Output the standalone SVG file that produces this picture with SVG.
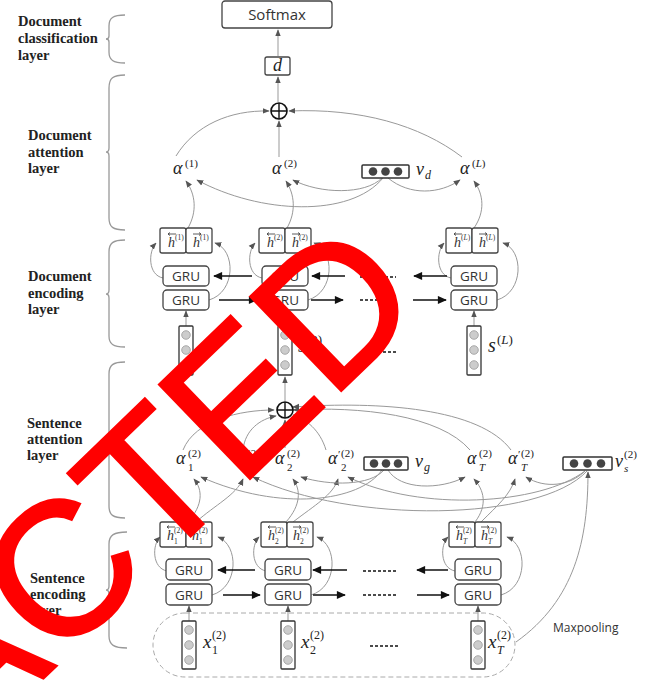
<svg xmlns="http://www.w3.org/2000/svg" width="656" height="682" viewBox="0 0 656 682">
<defs>
<marker id="ag" viewBox="0 0 10 10" refX="9" refY="5" markerWidth="7" markerHeight="7" orient="auto" markerUnits="userSpaceOnUse"><path d="M0,1 L10,5 L0,9 z" fill="#555"/></marker>
<marker id="ak" viewBox="0 0 10 10" refX="9" refY="5" markerWidth="10" markerHeight="9" orient="auto" markerUnits="userSpaceOnUse"><path d="M0,0.5 L10,5 L0,9.5 z" fill="#111"/></marker>
<style>
.box{fill:#fff;stroke:#444;stroke-width:1.3}
.gru{font-family:"Open Sans","Liberation Sans",sans-serif;font-size:13.5px;fill:#333;text-anchor:middle}
.lbl{font-family:"Liberation Serif",serif;font-weight:bold;font-size:14.5px;fill:#222}
.brace{fill:none;stroke:#999;stroke-width:1.3}
.g{fill:none;stroke:#999;stroke-width:1;marker-end:url(#ag)}
.k{fill:none;stroke:#111;stroke-width:1.5;marker-end:url(#ak)}
.dash{stroke:#111;stroke-width:1.5;stroke-dasharray:3 2}
.m{font-family:"Liberation Serif",serif;font-style:italic;font-size:18px;fill:#222}
.sup{font-family:"Liberation Serif",serif;font-size:11px;fill:#222}
.hh{font-family:"Liberation Serif",serif;font-style:italic;font-size:14px;fill:#333}
.hs{font-family:"Liberation Serif",serif;font-size:7.5px;fill:#333}
.ov{fill:none;stroke:#333;stroke-width:0.8}
.vec{fill:#fff;stroke:#333;stroke-width:1.3}
.cir{fill:#ccc;stroke:#999;stroke-width:0.8}
.dot{fill:#444}
.oplus{fill:#fff;stroke:#111;stroke-width:1.6}
</style>
</defs>
<rect width="656" height="682" fill="#fff"/>

<!-- layer labels and braces -->
<g id="layer-labels">
<text class="lbl" x="18" y="26">Document</text><text class="lbl" x="18" y="43">classification</text><text class="lbl" x="18" y="60">layer</text>
<text class="lbl" x="28" y="140">Document</text><text class="lbl" x="28" y="157">attention</text><text class="lbl" x="28" y="173">layer</text>
<text class="lbl" x="28" y="281">Document</text><text class="lbl" x="28" y="298">encoding</text><text class="lbl" x="28" y="314">layer</text>
<text class="lbl" x="27" y="428">Sentence</text><text class="lbl" x="27" y="444">attention</text><text class="lbl" x="27" y="460">layer</text>
<text class="lbl" x="30" y="583">Sentence</text><text class="lbl" x="30" y="599">encoding</text><text class="lbl" x="30" y="615">layer</text>
</g>
<g id="braces">
<path class="brace" d="M125 15 C113 15 109 18 109 26 L109 36 Q109 39 106 39 Q109 39 109 42 L109 52 C109 60 113 63 125 63"/>
<path class="brace" d="M125 75 C113 75 109 78 109 88 L109 148 Q109 152 106 152 Q109 152 109 156 L109 218 C109 227 113 230 125 230"/>
<path class="brace" d="M125 240 C113 240 109 243 109 252 L109 290 Q109 294 106 294 Q109 294 109 298 L109 336 C109 344 113 347 125 347"/>
<path class="brace" d="M125 362 C113 362 109 365 109 374 L109 436 Q109 440 106 440 Q109 440 109 444 L109 506 C109 515 113 518 125 518"/>
<path class="brace" d="M127 532 C114 532 109 535 109 544 L109 586 Q109 590 106 590 Q109 590 109 594 L109 636 C109 645 114 648 127 648"/>
</g>

<!-- connectors -->
<g id="connectors">
<path class="g" d="M278 56 L278 30"/>
<path class="g" d="M278 102 L278 77"/>
<path class="g" d="M176 156 C195 125 230 110 269 111"/>
<path class="g" d="M279 157 L279 121"/>
<path class="g" d="M462 157 C420 125 360 108 289 111"/>
<path class="g" d="M383 178 C350 218 260 214 197 180"/>
<path class="g" d="M382 178 C365 195 320 194 293 180"/>
<path class="g" d="M388 178 C410 196 440 194 460 180"/>
<path class="g" d="M188 228 C197 212 196 195 186 181"/>
<path class="g" d="M287 228 C296 212 295 195 286 181"/>
<path class="g" d="M474 228 C485 212 484 195 474 181"/>
<path class="g" d="M163 278 C148 275 148 252 156 243"/>
<path class="g" d="M209 300 C236 292 236 250 215 243"/>
<path class="g" d="M262 278 C247 275 247 252 255 243"/>
<path class="g" d="M308 300 C335 292 335 250 314 243"/>
<path class="g" d="M451 278 C436 275 436 252 444 243"/>
<path class="g" d="M497 300 C524 292 524 250 503 243"/>
<path class="k" d="M252 276 L214 276"/>
<path class="k" d="M345 276 L312 276"/>
<path class="k" d="M447 276 L414 276"/>
<path class="k" d="M219 300 L257 300"/>
<path class="k" d="M311 300 L343 300"/>
<path class="k" d="M413 300 L446 300"/>
<line class="dash" x1="360" y1="277" x2="396" y2="277"/>
<line class="dash" x1="360" y1="300" x2="396" y2="300"/>
<line class="dash" x1="373" y1="352" x2="396" y2="352"/>
<path class="g" d="M186 326 L186 311"/>
<path class="g" d="M285 326 L285 311"/>
<path class="g" d="M474 326 L474 311"/>
<path class="g" d="M285 401 L285 377"/>
<path class="g" d="M183 450 C195 420 240 410 274 410"/>
<path class="g" d="M243 450 C245 430 260 419 276 416"/>
<path class="g" d="M285 448 L285 420"/>
<path class="g" d="M326 450 C320 430 306 419 293 415"/>
<path class="g" d="M470 450 C440 415 360 406 293 410"/>
<path class="g" d="M511 450 C480 408 380 401 293 407"/>
<path class="g" d="M188 522 C203 505 203 490 194 479"/>
<path class="g" d="M196 522 C215 505 236 495 243 479"/>
<path class="g" d="M286 522 C301 505 301 490 293 479"/>
<path class="g" d="M293 522 C315 505 333 495 338 479"/>
<path class="g" d="M475 522 C488 505 484 490 474 479"/>
<path class="g" d="M481 522 C498 505 510 495 515 479"/>
<path class="g" d="M388 470 C400 490 440 490 465 477"/>
<path class="g" d="M384 470 C370 486 330 486 301 477"/>
<path class="g" d="M382 470 C360 502 280 512 201 477"/>
<path class="g" d="M585 471 C570 486 545 489 526 477"/>
<path class="g" d="M585 471 C540 505 420 512 348 477"/>
<path class="g" d="M587 471 C540 522 350 524 253 477"/>
<path class="g" d="M516 642 C575 600 588 540 588 472"/>
<path class="g" d="M167 571 C152 568 152 545 160 537"/>
<path class="g" d="M212 595 C239 587 239 545 218 537"/>
<path class="g" d="M266 571 C251 568 251 545 259 537"/>
<path class="g" d="M311 595 C338 587 338 545 317 537"/>
<path class="g" d="M455 571 C440 568 440 545 448 537"/>
<path class="g" d="M501 595 C528 587 528 545 507 537"/>
<path class="k" d="M255 570 L218 570"/>
<path class="k" d="M347 570 L313 570"/>
<path class="k" d="M448 570 L417 570"/>
<path class="k" d="M223 595 L260 595"/>
<path class="k" d="M313 595 L345 595"/>
<path class="k" d="M417 595 L449 595"/>
<line class="dash" x1="363" y1="571" x2="398" y2="571"/>
<line class="dash" x1="363" y1="595" x2="398" y2="595"/>
<line class="dash" x1="370" y1="646" x2="398" y2="646"/>
<path class="g" d="M189 621 L189 606"/>
<path class="g" d="M288 621 L288 606"/>
<path class="g" d="M478 621 L478 606"/>
</g>

<!-- nodes -->
<g id="softmax"><rect class="box" x="222" y="1" width="110" height="27" rx="3"/><text class="gru" x="277" y="20" style="font-size:15px">Softmax</text></g>
<g id="d"><rect class="box" x="265" y="57" width="25" height="18" rx="2"/><text class="m" x="277.5" y="71" text-anchor="middle">d</text></g>
<g id="oplus-doc"><circle class="oplus" cx="279" cy="111" r="8"/><path d="M271 111 H287 M279 103 V119" stroke="#111" stroke-width="1.4"/></g>

<g id="alpha-doc-1"><text class="m" x="173" y="174">α</text><text class="sup" x="185" y="167">(1)</text></g>
<g id="alpha-doc-2"><text class="m" x="272" y="174">α</text><text class="sup" x="284" y="167">(2)</text></g>
<g id="alpha-doc-L"><text class="m" x="460" y="174">α</text><text class="sup" x="472" y="167">(<tspan font-style="italic">L</tspan>)</text></g>
<g id="vd"><rect class="box" x="362" y="165" width="47" height="13" rx="1" style="stroke:#333;stroke-width:1.5"/><circle class="dot" cx="373" cy="171.5" r="4.3"/><circle class="dot" cx="385.5" cy="171.5" r="4.3"/><circle class="dot" cx="398" cy="171.5" r="4.3"/><text class="m" x="416" y="175" style="font-size:18px">v</text><text class="sup" x="425" y="179" font-style="italic" style="font-size:12px">d</text></g>

<g id="doc-col-1">
<rect class="box" x="160" y="228" width="26" height="25" rx="2"/><rect class="box" x="186" y="228" width="26" height="25" rx="2"/>
<text class="hh" x="168" y="247">h</text><text class="hs" x="175" y="240">(1)</text><path class="ov" d="M168 234 h8 M168 234 l2 -1.5 M168 234 l2 1.5"/>
<text class="hh" x="193" y="247">h</text><text class="hs" x="200" y="240">(1)</text><path class="ov" d="M193 234 h8 M201 234 l-2 -1.5 M201 234 l-2 1.5"/>
<rect class="box" x="163" y="266" width="46" height="20" rx="4"/><text class="gru" x="186" y="281">GRU</text>
<rect class="box" x="163" y="290" width="46" height="20" rx="4"/><text class="gru" x="186" y="305">GRU</text>
<rect class="vec" x="179" y="326" width="14" height="49" rx="1"/><circle class="cir" cx="186" cy="335" r="4.3"/><circle class="cir" cx="186" cy="350" r="4.3"/><circle class="cir" cx="186" cy="365" r="4.3"/>
<text class="m" x="200" y="352" style="font-size:20px">s</text><text class="sup" x="209" y="344" style="font-size:13px">(1)</text>
</g>
<g id="doc-col-2">
<rect class="box" x="259" y="228" width="26" height="25" rx="2"/><rect class="box" x="285" y="228" width="26" height="25" rx="2"/>
<text class="hh" x="267" y="247">h</text><text class="hs" x="274" y="240">(2)</text><path class="ov" d="M267 234 h8 M267 234 l2 -1.5 M267 234 l2 1.5"/>
<text class="hh" x="292" y="247">h</text><text class="hs" x="299" y="240">(2)</text><path class="ov" d="M292 234 h8 M300 234 l-2 -1.5 M300 234 l-2 1.5"/>
<rect class="box" x="262" y="266" width="46" height="20" rx="4"/><text class="gru" x="285" y="281">GRU</text>
<rect class="box" x="262" y="290" width="46" height="20" rx="4"/><text class="gru" x="285" y="305">GRU</text>
<rect class="vec" x="278" y="326" width="14" height="49" rx="1"/><circle class="cir" cx="285" cy="335" r="4.3"/><circle class="cir" cx="285" cy="350" r="4.3"/><circle class="cir" cx="285" cy="365" r="4.3"/>
<text class="m" x="298" y="352" style="font-size:20px">s</text><text class="sup" x="307" y="344" style="font-size:13px">(2)</text>
</g>
<g id="doc-col-L">
<rect class="box" x="446" y="228" width="26" height="25" rx="2"/><rect class="box" x="472" y="228" width="26" height="25" rx="2"/>
<text class="hh" x="454" y="247">h</text><text class="hs" x="461" y="240">(<tspan font-style="italic">L</tspan>)</text><path class="ov" d="M454 234 h8 M454 234 l2 -1.5 M454 234 l2 1.5"/>
<text class="hh" x="479" y="247">h</text><text class="hs" x="486" y="240">(<tspan font-style="italic">L</tspan>)</text><path class="ov" d="M479 234 h8 M487 234 l-2 -1.5 M487 234 l-2 1.5"/>
<rect class="box" x="451" y="266" width="46" height="20" rx="4"/><text class="gru" x="474" y="281">GRU</text>
<rect class="box" x="451" y="290" width="46" height="20" rx="4"/><text class="gru" x="474" y="305">GRU</text>
<rect class="vec" x="467" y="326" width="14" height="49" rx="1"/><circle class="cir" cx="474" cy="335" r="4.3"/><circle class="cir" cx="474" cy="350" r="4.3"/><circle class="cir" cx="474" cy="365" r="4.3"/>
<text class="m" x="488" y="352" style="font-size:20px">s</text><text class="sup" x="497" y="344" style="font-size:13px">(<tspan font-style="italic">L</tspan>)</text>
</g>

<g id="oplus-sent"><circle class="oplus" cx="285" cy="410" r="8"/><path d="M277 410 H293 M285 402 V418" stroke="#111" stroke-width="1.4"/></g>
<g id="alpha-s-1"><text class="m" x="176" y="464">α</text><text class="sup" x="188" y="457">(2)</text><text class="sup" x="188" y="471">1</text></g>
<g id="alpha-s-1p"><text class="m" x="234" y="464">α</text><text class="sup" x="244" y="458">′</text><text class="sup" x="247" y="457">(2)</text><text class="sup" x="247" y="471">1</text></g>
<g id="alpha-s-2"><text class="m" x="275" y="464">α</text><text class="sup" x="287" y="457">(2)</text><text class="sup" x="287" y="471">2</text></g>
<g id="alpha-s-2p"><text class="m" x="328" y="464">α</text><text class="sup" x="338" y="458">′</text><text class="sup" x="341" y="457">(2)</text><text class="sup" x="341" y="471">2</text></g>
<g id="vg"><rect class="box" x="364" y="457" width="44" height="13" rx="1" style="stroke:#333;stroke-width:1.5"/><circle class="dot" cx="374" cy="463.5" r="4.3"/><circle class="dot" cx="386" cy="463.5" r="4.3"/><circle class="dot" cx="398" cy="463.5" r="4.3"/><text class="m" x="415" y="467" style="font-size:18px">v</text><text class="sup" x="424" y="471" font-style="italic" style="font-size:12px">g</text></g>
<g id="alpha-s-T"><text class="m" x="467" y="464">α</text><text class="sup" x="479" y="457">(2)</text><text class="sup" x="479" y="471" font-style="italic">T</text></g>
<g id="alpha-s-Tp"><text class="m" x="508" y="464">α</text><text class="sup" x="518" y="458">′</text><text class="sup" x="521" y="457">(2)</text><text class="sup" x="521" y="471" font-style="italic">T</text></g>
<g id="vs"><rect class="box" x="563" y="457" width="49" height="13" rx="1" style="stroke:#333;stroke-width:1.5"/><circle class="dot" cx="574" cy="463.5" r="4.3"/><circle class="dot" cx="587.5" cy="463.5" r="4.3"/><circle class="dot" cx="601" cy="463.5" r="4.3"/><text class="m" x="615" y="467" style="font-size:18px">v</text><text class="sup" x="624" y="458">(2)</text><text class="sup" x="624" y="472" font-style="italic">s</text></g>

<g id="input-region"><rect x="153" y="613" width="362" height="64" rx="32" fill="none" stroke="#aaa" stroke-width="1" stroke-dasharray="5 3"/><text x="553" y="632" style="font-family:'Open Sans','Liberation Sans',sans-serif;font-size:12px;fill:#333">Maxpooling</text></g>
<g id="sent-col-1">
<rect class="box" x="160" y="522" width="26" height="25" rx="2"/><rect class="box" x="186" y="522" width="26" height="25" rx="2"/>
<text class="hh" x="167" y="540">h</text><text class="hs" x="174" y="533">(2)</text><text class="hs" x="174" y="544">1</text><path class="ov" d="M167 527 h8 M167 527 l2 -1.5 M167 527 l2 1.5"/>
<text class="hh" x="192" y="540">h</text><text class="hs" x="199" y="533">(2)</text><text class="hs" x="199" y="544">1</text><path class="ov" d="M192 527 h8 M200 527 l-2 -1.5 M200 527 l-2 1.5"/>
<rect class="box" x="166" y="559" width="46" height="21" rx="4"/><text class="gru" x="189" y="575">GRU</text>
<rect class="box" x="166" y="584" width="46" height="21" rx="4"/><text class="gru" x="189" y="600">GRU</text>
<rect class="vec" x="182" y="621" width="14" height="48" rx="1"/><circle class="cir" cx="189" cy="630" r="4.3"/><circle class="cir" cx="189" cy="645" r="4.3"/><circle class="cir" cx="189" cy="660" r="4.3"/>
<text class="m" x="203" y="648" style="font-size:19px">x</text><text class="sup" x="212" y="639" style="font-size:12px">(2)</text><text class="sup" x="212" y="654" style="font-size:12px">1</text>
</g>
<g id="sent-col-2">
<rect class="box" x="261" y="522" width="26" height="25" rx="2"/><rect class="box" x="287" y="522" width="26" height="25" rx="2"/>
<text class="hh" x="268" y="540">h</text><text class="hs" x="275" y="533">(2)</text><text class="hs" x="275" y="544">2</text><path class="ov" d="M268 527 h8 M268 527 l2 -1.5 M268 527 l2 1.5"/>
<text class="hh" x="293" y="540">h</text><text class="hs" x="300" y="533">(2)</text><text class="hs" x="300" y="544">2</text><path class="ov" d="M293 527 h8 M301 527 l-2 -1.5 M301 527 l-2 1.5"/>
<rect class="box" x="265" y="559" width="46" height="21" rx="4"/><text class="gru" x="288" y="575">GRU</text>
<rect class="box" x="265" y="584" width="46" height="21" rx="4"/><text class="gru" x="288" y="600">GRU</text>
<rect class="vec" x="281" y="621" width="14" height="48" rx="1"/><circle class="cir" cx="288" cy="630" r="4.3"/><circle class="cir" cx="288" cy="645" r="4.3"/><circle class="cir" cx="288" cy="660" r="4.3"/>
<text class="m" x="301" y="648" style="font-size:19px">x</text><text class="sup" x="310" y="639" style="font-size:12px">(2)</text><text class="sup" x="310" y="654" style="font-size:12px">2</text>
</g>
<g id="sent-col-T">
<rect class="box" x="449" y="522" width="26" height="25" rx="2"/><rect class="box" x="475" y="522" width="26" height="25" rx="2"/>
<text class="hh" x="456" y="540">h</text><text class="hs" x="463" y="533">(2)</text><text class="hs" x="463" y="544" font-style="italic">T</text><path class="ov" d="M456 527 h8 M456 527 l2 -1.5 M456 527 l2 1.5"/>
<text class="hh" x="481" y="540">h</text><text class="hs" x="488" y="533">(2)</text><text class="hs" x="488" y="544" font-style="italic">T</text><path class="ov" d="M481 527 h8 M489 527 l-2 -1.5 M489 527 l-2 1.5"/>
<rect class="box" x="455" y="559" width="46" height="21" rx="4"/><text class="gru" x="478" y="575">GRU</text>
<rect class="box" x="455" y="584" width="46" height="21" rx="4"/><text class="gru" x="478" y="600">GRU</text>
<rect class="vec" x="471" y="621" width="14" height="48" rx="1"/><circle class="cir" cx="478" cy="630" r="4.3"/><circle class="cir" cx="478" cy="645" r="4.3"/><circle class="cir" cx="478" cy="660" r="4.3"/>
<text class="m" x="488" y="648" style="font-size:19px">x</text><text class="sup" x="497" y="639" style="font-size:12px">(2)</text><text class="sup" x="497" y="654" font-style="italic" style="font-size:12px">T</text>
</g>

<g id="stamp"><text x="-723" y="0" transform="translate(197,530) rotate(-44)" font-family="Liberation Sans, Arial, sans-serif" font-size="190" fill="#ff0000" stroke="#ff0000" stroke-width="2.5">REDACTED</text></g>
</svg>
